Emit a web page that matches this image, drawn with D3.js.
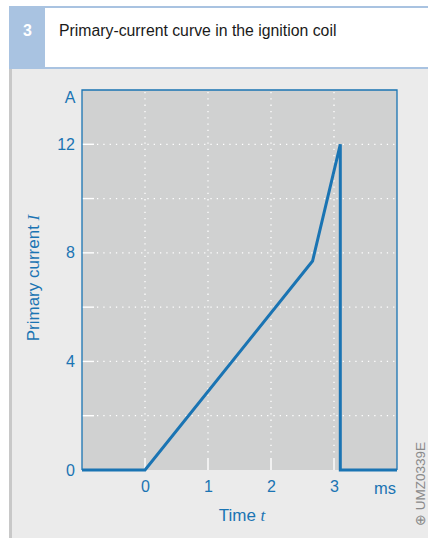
<!DOCTYPE html>
<html>
<head>
<meta charset="utf-8">
<script src="https://cdn.jsdelivr.net/npm/d3@7"></script>
<style>
  html, body { margin: 0; padding: 0; background: #ffffff; }
  svg { display: block; }
</style>
</head>
<body>
<svg id="chart" width="428" height="538"></svg>
<script>
// Primary-current curve: time in ms, current in A
const timeMs = [-1, 0, 2.66, 3.1, 3.1, 4];
const currentA = [0, 0, 7.7, 12, 0, 0];
const xTicks = [0, 1, 2, 3];
const yTicks = [0, 4, 8, 12];
const yGrid = [2, 4, 6, 8, 10, 12];

const blue = "#1a74b3";
const font = "Liberation Sans, Arial, sans-serif";
const svg = d3.select("#chart");

// Header band
svg.append("rect").attr("x", 9).attr("y", 6).attr("width", 419).attr("height", 63).attr("fill", "#a9c3e1");
svg.append("rect").attr("x", 45).attr("y", 8).attr("width", 383).attr("height", 59).attr("fill", "#ffffff");
svg.append("text").attr("x", 27.5).attr("y", 36).attr("text-anchor", "middle")
  .attr("font-family", font).attr("font-weight", "bold")
  .attr("font-size", 16).attr("fill", "#ffffff").text("3");
svg.append("text").attr("x", 59).attr("y", 35.5)
  .attr("font-family", font)
  .attr("font-size", 15.8).attr("fill", "#1a1a1a").text("Primary-current curve in the ignition coil");

// Panel background
svg.append("rect").attr("x", 9).attr("y", 69).attr("width", 419).attr("height", 469).attr("fill", "#ebebeb");
svg.append("rect").attr("x", 9).attr("y", 69).attr("width", 3).attr("height", 469).attr("fill", "#c8c8c8");

// Plot area
const pLeft = 82, pRight = 397, pTop = 90, pBottom = 470;
const x = d3.scaleLinear().domain([-1, 4]).range([pLeft, pRight]);
const y = d3.scaleLinear().domain([0, 14]).range([pBottom, pTop]);

svg.append("rect").attr("x", pLeft).attr("y", pTop).attr("width", pRight - pLeft).attr("height", pBottom - pTop)
  .attr("fill", "#d0d1d1");

// Dotted grid
const grid = svg.append("g").attr("stroke", "#ffffff").attr("stroke-width", 1.3)
  .attr("stroke-dasharray", "1.3,5");
grid.selectAll("line.h").data(yGrid).join("line").attr("class", "h")
  .attr("x1", pLeft + 15).attr("x2", pRight).attr("y1", d => y(d)).attr("y2", d => y(d));
grid.selectAll("line.v").data(xTicks).join("line").attr("class", "v")
  .attr("x1", d => x(d)).attr("x2", d => x(d)).attr("y1", pTop + 2).attr("y2", pBottom - 14);

// Solid white tick stubs
const stubs = svg.append("g").attr("stroke", "#ffffff").attr("stroke-width", 1.4);
stubs.selectAll("line.h").data(yGrid).join("line").attr("class", "h")
  .attr("x1", pLeft).attr("x2", pLeft + 12).attr("y1", d => y(d)).attr("y2", d => y(d));
stubs.selectAll("line.v").data(xTicks).join("line").attr("class", "v")
  .attr("x1", d => x(d)).attr("x2", d => x(d)).attr("y1", pBottom - 12).attr("y2", pBottom);

// Frame (left, top, right)
svg.append("path")
  .attr("d", `M${pLeft},${pBottom}V${pTop}H${pRight}V${pBottom}`)
  .attr("fill", "none").attr("stroke", blue).attr("stroke-width", 1.3);

// Tick labels via d3 axes
const yAxis = svg.append("g").attr("transform", `translate(${pLeft},0)`)
  .call(d3.axisLeft(y).tickValues(yTicks).tickFormat(d3.format("d")).tickSize(0).tickPadding(7));
const xAxis = svg.append("g").attr("transform", `translate(0,${pBottom})`)
  .call(d3.axisBottom(x).tickValues(xTicks).tickFormat(d3.format("d")).tickSize(0).tickPadding(11));
[yAxis, xAxis].forEach(a => {
  a.select(".domain").remove();
  a.attr("font-size", null).attr("font-family", null);
  a.selectAll("text").style("font-family", font)
    .style("font-size", "16px").style("fill", blue);
});

// Curve
const line = d3.line().x((d, i) => x(timeMs[i])).y(d => y(d));
svg.append("path").datum(currentA).attr("d", line)
  .attr("fill", "none").attr("stroke", blue).attr("stroke-width", 3)
  .attr("stroke-linejoin", "miter");

// Units
svg.append("text").attr("x", 70).attr("y", 103).attr("text-anchor", "middle")
  .attr("font-family", font).attr("font-size", 16).attr("fill", blue).text("A");
svg.append("text").attr("x", 385).attr("y", 494).attr("text-anchor", "middle")
  .attr("font-family", font).attr("font-size", 16.5).attr("fill", blue).text("ms");

// Axis titles
const xt = svg.append("text").attr("x", 242).attr("y", 521).attr("text-anchor", "middle")
  .attr("font-family", font).attr("font-size", 17).attr("fill", blue);
xt.append("tspan").text("Time ");
xt.append("tspan").attr("font-style", "italic").attr("font-family", "Liberation Serif, serif").text("t");

const yt = svg.append("text").attr("transform", "translate(39,278) rotate(-90)").attr("text-anchor", "middle")
  .attr("font-family", font).attr("font-size", 17).attr("fill", blue);
yt.append("tspan").text("Primary current ");
yt.append("tspan").attr("font-style", "italic").attr("font-family", "Liberation Serif, serif").text("I");

// Figure code
svg.append("text").attr("transform", "translate(424.5,484) rotate(-90)").attr("text-anchor", "middle")
  .attr("font-family", font).attr("font-size", 13.5).attr("fill", "#8a8a8a").text("\u2295 UMZ0339E");
</script>
</body>
</html>
